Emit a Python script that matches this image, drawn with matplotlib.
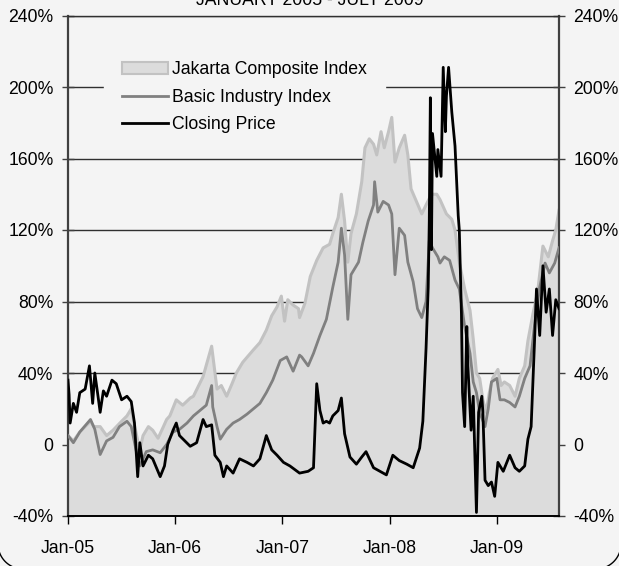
import matplotlib
matplotlib.use('Agg')
import matplotlib.pyplot as plt
import matplotlib.patches as mpatches
from matplotlib.lines import Line2D
import numpy as np

plt.rcParams['font.family'] = ['Liberation Sans', 'DejaVu Sans']

# 数据（从图上读取，单位：%，时间为小数年份）
closing_t = [2005.00, 2005.01, 2005.02, 2005.05, 2005.08, 2005.11, 2005.16, 2005.20, 2005.23, 2005.25,
             2005.28, 2005.30, 2005.33, 2005.36, 2005.41, 2005.45, 2005.50, 2005.55, 2005.59, 2005.62,
             2005.65, 2005.67, 2005.70, 2005.75, 2005.79, 2005.86, 2005.90, 2005.93, 2005.98, 2006.01,
             2006.04, 2006.09, 2006.14, 2006.20, 2006.26, 2006.29, 2006.34, 2006.37, 2006.42, 2006.45,
             2006.48, 2006.54, 2006.60, 2006.67, 2006.73, 2006.79, 2006.85, 2006.90, 2006.95, 2007.01,
             2007.07, 2007.16, 2007.24, 2007.29, 2007.32, 2007.35, 2007.38, 2007.41, 2007.44, 2007.47,
             2007.52, 2007.55, 2007.58, 2007.63, 2007.69, 2007.74, 2007.78, 2007.85, 2007.91, 2007.97,
             2008.03, 2008.09, 2008.16, 2008.22, 2008.28, 2008.31, 2008.34, 2008.36, 2008.37, 2008.38,
             2008.39, 2008.40, 2008.44, 2008.45, 2008.48, 2008.50, 2008.52, 2008.53, 2008.55, 2008.58,
             2008.61, 2008.64, 2008.65, 2008.67, 2008.68, 2008.70, 2008.72, 2008.73, 2008.76, 2008.78,
             2008.81, 2008.83, 2008.86, 2008.87, 2008.89, 2008.92, 2008.95, 2008.98, 2009.01, 2009.06,
             2009.10, 2009.12, 2009.17, 2009.21, 2009.26, 2009.29, 2009.32, 2009.35, 2009.37, 2009.40,
             2009.43, 2009.46, 2009.49, 2009.52, 2009.55, 2009.58]
closing_v = [36, 28, 12, 23, 18, 29, 31, 44, 23, 40,
             27, 18, 30, 27, 36, 34, 25, 27, 24, 12,
             -18, 1, -12, -6, -8, -18, -12, 0, 8, 12,
             5, 2, -1, 1, 14, 10, 11, -6, -10, -18,
             -12, -16, -8, -10, -12, -8, 5, -3, -6, -10,
             -12, -16, -15, -13, 34, 19, 12, 13, 12, 16,
             19, 26, 6, -7, -11, -7, -4, -13, -15, -17,
             -6, -9, -11, -13, -2, 13, 54, 88, 125, 194,
             109, 174, 150, 165, 150, 211, 175, 195, 211, 186,
             167, 128, 120, 73, 29, 10, 66, 44, 8, 27,
             -38, 18, 27, 18, -20, -23, -21, -29, -10, -15,
             -9, -6, -13, -15, -12, 3, 10, 55, 87, 61,
             100, 74, 87, 61, 81, 76]

jci_t = [2005.00, 2005.05, 2005.11, 2005.21, 2005.24, 2005.30, 2005.36, 2005.42, 2005.50, 2005.55,
         2005.59, 2005.64, 2005.67, 2005.70, 2005.75, 2005.79, 2005.84, 2005.89, 2005.92, 2005.95,
         2006.01, 2006.07, 2006.14, 2006.17, 2006.26, 2006.34, 2006.39, 2006.43, 2006.48, 2006.53,
         2006.57, 2006.63, 2006.73, 2006.79, 2006.85, 2006.90, 2006.95, 2006.99, 2007.02, 2007.05,
         2007.10, 2007.15, 2007.16, 2007.21, 2007.26, 2007.32, 2007.38, 2007.44, 2007.47, 2007.52,
         2007.55, 2007.58, 2007.61, 2007.64, 2007.69, 2007.74, 2007.77, 2007.81, 2007.85, 2007.88,
         2007.92, 2007.95, 2007.99, 2008.02, 2008.05, 2008.09, 2008.14, 2008.17, 2008.20, 2008.25,
         2008.30, 2008.34, 2008.39, 2008.44, 2008.47, 2008.53, 2008.58, 2008.61, 2008.65, 2008.70,
         2008.75, 2008.78, 2008.81, 2008.84, 2008.87, 2008.90, 2008.93, 2008.96, 2009.01, 2009.04,
         2009.07, 2009.12, 2009.17, 2009.21, 2009.26, 2009.29, 2009.34, 2009.38, 2009.43, 2009.48,
         2009.52, 2009.55, 2009.58]
jci_v = [5, 2, 7, 13, 10, 10, 5, 8, 13, 16,
         20, 5, -3, 5, 10, 8, 3.5, 10, 14, 16,
         25, 22, 26, 27, 38, 55, 31, 33, 27, 34,
         40, 46, 53, 57, 64, 72, 77, 83, 69, 81,
         78, 76, 71, 79, 94, 103, 110, 112, 118, 127,
         140, 125, 102, 118, 129, 147, 166, 171, 168, 162,
         175, 166, 175, 183, 158, 166, 173, 162, 143, 136,
         129, 134, 140, 140, 137, 129, 126, 120, 102, 87,
         75, 59, 40, 37, 25, 18, 29, 37, 42, 33,
         35, 33, 27, 37, 44, 58, 74, 85, 111, 105,
         114, 120, 131]

basic_t = [2005.00, 2005.05, 2005.11, 2005.21, 2005.25, 2005.30, 2005.36, 2005.42, 2005.48, 2005.55,
           2005.59, 2005.64, 2005.67, 2005.73, 2005.79, 2005.86, 2005.92, 2005.98, 2006.04, 2006.11,
           2006.17, 2006.23, 2006.29, 2006.34, 2006.35, 2006.39, 2006.42, 2006.48, 2006.54, 2006.60,
           2006.67, 2006.73, 2006.79, 2006.85, 2006.91, 2006.98, 2007.04, 2007.10, 2007.16, 2007.18,
           2007.24, 2007.29, 2007.35, 2007.41, 2007.47, 2007.52, 2007.55, 2007.58, 2007.61, 2007.64,
           2007.71, 2007.75, 2007.80, 2007.85, 2007.86, 2007.89, 2007.94, 2007.99, 2008.02, 2008.05,
           2008.09, 2008.14, 2008.17, 2008.22, 2008.26, 2008.30, 2008.34, 2008.37, 2008.40, 2008.45,
           2008.47, 2008.51, 2008.56, 2008.61, 2008.65, 2008.70, 2008.75, 2008.78, 2008.81, 2008.84,
           2008.89, 2008.92, 2008.95, 2009.00, 2009.03, 2009.07, 2009.12, 2009.17, 2009.21, 2009.26,
           2009.31, 2009.35, 2009.40, 2009.45, 2009.49, 2009.54, 2009.58]
basic_v = [5, 1, 7, 14, 8.5, -5.6, 2, 4, 10, 13,
           10, -4.6, -12, -4, -3, -4.6, 0, 7, 8.5, 12,
           16, 19, 22, 33, 21, 10, 3, 8.5, 12, 14,
           17, 20, 23, 29, 36, 47, 49, 41, 50, 49,
           44, 51, 61, 70, 88, 102, 121, 106, 70, 95,
           102, 113, 125, 134, 147, 130, 136, 134, 129, 95,
           121, 117, 102, 91, 76, 71, 80, 114, 110, 105,
           101.5, 105, 103, 92, 87, 66, 51, 35, 29, 18,
           10, 20, 35, 37, 25, 25, 23.5, 21, 27, 37,
           44, 66, 88, 101.5, 96, 101.5, 110]

y_ticks = [-40, 0, 40, 80, 120, 160, 200, 240]
y_labels = ['-40%', '0', '40%', '80%', '120%', '160%', '200%', '240%']
x_years = [2005, 2006, 2007, 2008, 2009]
x_labels = ['Jan-05', 'Jan-06', 'Jan-07', 'Jan-08', 'Jan-09']

bg = '#f4f4f4'
fill_c = '#dcdcdc'
jci_c = '#c2c2c2'
basic_c = '#808080'
fs = 12.7

W, H = 619, 566
fig = plt.figure(figsize=(W / 100, H / 100), dpi=100)
fig.patch.set_facecolor(bg)
ax = fig.add_axes([68 / W, 50 / H, 491 / W, 500.5 / H])
ax.set_facecolor(bg)

ax.set_axisbelow(True)
ax.yaxis.grid(True, color='#303030', linewidth=1.0)

ax.fill_between(jci_t, -40, jci_v, color=fill_c, linewidth=0, zorder=1)
ax.plot(jci_t, jci_v, color=jci_c, linewidth=2.2, zorder=2)
ax.plot(basic_t, basic_v, color=basic_c, linewidth=2.0, zorder=3)
ax.plot(closing_t, closing_v, color='black', linewidth=2.0, zorder=4)

ax.set_xlim(2005.0, 2009.58)
ax.set_ylim(-40, 240)
ax.set_yticks(y_ticks)
ax.set_yticklabels(y_labels)
ax.set_xticks(x_years)
ax.set_xticklabels(x_labels)

ax.tick_params(axis='y', which='both', left=True, right=True, labelleft=True, labelright=True,
               direction='inout', length=9, width=1.0, color='#404040', labelsize=fs, pad=6)
ax.tick_params(axis='x', direction='out', length=6, width=1.0, labelsize=fs, pad=11)

for side in ['left', 'right']:
    ax.spines[side].set_color('#404040')
    ax.spines[side].set_linewidth(1.6)
ax.spines['bottom'].set_color('black')
ax.spines['bottom'].set_linewidth(1.4)
ax.spines['top'].set_color('#303030')
ax.spines['top'].set_linewidth(1.0)

handles = [
    mpatches.Patch(facecolor=fill_c, edgecolor=jci_c, linewidth=1.5, label='Jakarta Composite Index'),
    Line2D([], [], color=basic_c, linewidth=2.0, label='Basic Industry Index'),
    Line2D([], [], color='black', linewidth=2.0, label='Closing Price'),
]
leg = ax.legend(handles=handles, loc='upper left', bbox_to_anchor=(0.074, 0.944),
                frameon=True, fancybox=False, facecolor=bg, edgecolor=bg, framealpha=1,
                fontsize=fs, handlelength=2.6, handletextpad=0.25, labelspacing=0.6,
                borderpad=1.0, borderaxespad=0)
leg.set_zorder(0.8)  # 图例底色只盖住网格线，不盖住数据

fig.text(0.5, 1 - 5 / H, 'JANUARY 2005 - JULY 2009', ha='center', va='baseline', fontsize=fs)

# 圆角外框（像素坐标，自下而上）
x0, x1, y0, y1, rad = -2, W + 2, -3, H + 30, 25
th = np.linspace(0, np.pi / 2, 20)
bx = np.concatenate([x0 + rad - rad * np.cos(th), x1 - rad + rad * np.sin(th),
                     [x1, x0, x0 + rad - rad]])
by = np.concatenate([y0 + rad - rad * np.sin(th), y0 + rad - rad * np.cos(th),
                     [y1, y1, y0 + rad]])
fig.add_artist(Line2D(bx / W, by / H, transform=fig.transFigure, color='black', linewidth=1.0))

plt.savefig('out.png', dpi=100, facecolor=bg)
plt.close()
